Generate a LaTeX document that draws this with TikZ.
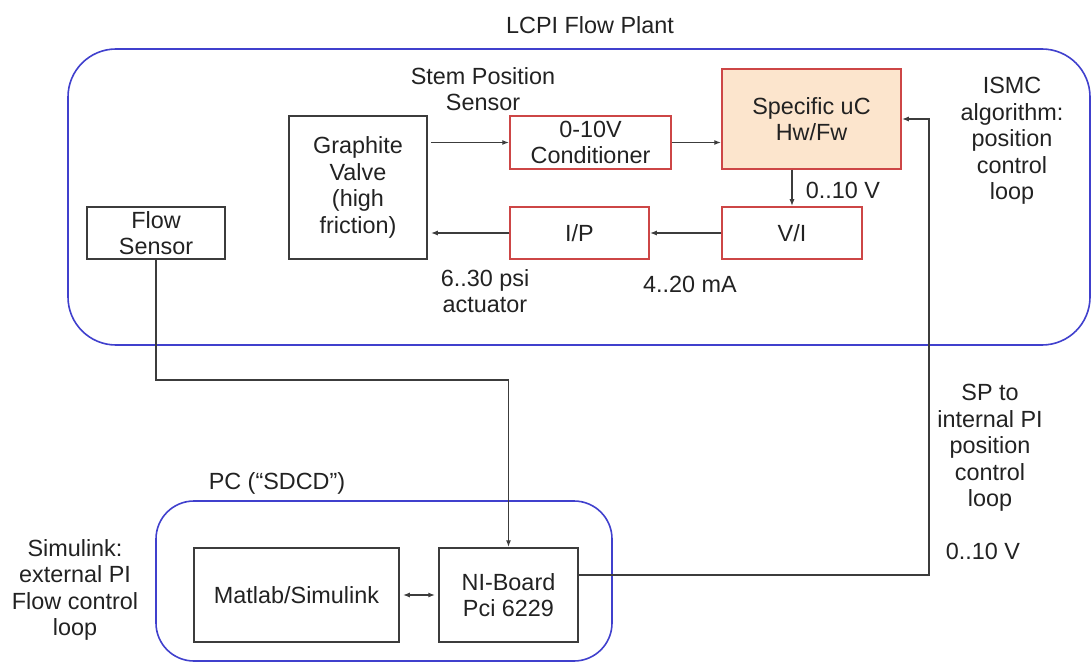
\documentclass[tikz,border=0pt]{standalone}
\usepackage{fontspec}
\setmainfont{Liberation Sans}
\usetikzlibrary{arrows.meta}
\definecolor{grpblue}{RGB}{64,64,205}
\definecolor{boxred}{RGB}{205,70,70}
\definecolor{ucfill}{RGB}{252,229,205}
\definecolor{ink}{RGB}{34,34,34}
\definecolor{linegray}{RGB}{60,60,60}
\begin{document}
\begin{tikzpicture}[x=1pt,y=-1pt,
  every node/.style={font=\fontsize{23.4}{26.5}\selectfont, text=ink, align=center, inner sep=0pt},
  group/.style={draw=grpblue, line width=1.6pt},
  blk/.style={draw=linegray, line width=1.5pt},
  redblk/.style={draw=boxred, line width=1.5pt},
  conn/.style={draw=linegray, line width=1.4pt},
  arr/.style={conn, -{Latex[length=7pt,width=5pt]}},
  darr/.style={conn, {Latex[length=7pt,width=5pt]}-{Latex[length=7pt,width=5pt]}},
  lbl/.style={}
]
\useasboundingbox (0,0) rectangle (1092,663);
% groups
\draw[group, rounded corners=48pt] (68,49) rectangle (1090,345);
\draw[group, rounded corners=38pt] (156,501) rectangle (612,661);
% titles
\node[lbl] (tplant) at (590,25) {LCPI Flow Plant};
\node[lbl] (tpc) at (277,483) {PC (“SDCD”)};
% boxes
\node[blk, minimum width=138pt, minimum height=52pt] (fs) at (156,233) {Flow\\Sensor};
\node[blk, minimum width=138pt, minimum height=143pt] (valve) at (358,187.5) {Graphite\\Valve\\(high\\friction)};
\node[redblk, minimum width=161pt, minimum height=53pt] (cond) at (590.5,142.5) {0-10V\\Conditioner};
\node[redblk, minimum width=139pt, minimum height=52pt] (ip) at (579.5,233) {I/P};
\node[redblk, fill=ucfill, minimum width=179pt, minimum height=100pt] (uc) at (811.5,119) {Specific uC\\Hw/Fw};
\node[redblk, minimum width=140pt, minimum height=52pt] (vi) at (792,233) {V/I};
\node[blk, minimum width=205pt, minimum height=94pt] (ml) at (296.5,595) {Matlab/Simulink};
\node[blk, minimum width=139pt, minimum height=94pt] (ni) at (508.5,595) {NI-Board\\Pci 6229};
% labels
\node[lbl] (lstem) at (483,89) {Stem Position\\Sensor};
\node[lbl] (lpsi) at (485,291) {6..30 psi\\actuator};
\node[lbl] (lma) at (690,284) {4..20 mA};
\node[lbl] (lv1) at (843,190) {0..10 V};
\node[lbl] (lismc) at (1012,141) {ISMC\\algorithm:\\position\\control\\loop};
\node[lbl] (lsp) at (990,448) {SP to\\internal PI\\position\\control\\loop};
\node[lbl] (lv2) at (983,551) {0..10 V};
\node[lbl] (lsim) at (75,590) {Simulink:\\external PI\\Flow control\\loop};
% connectors
\draw[arr, shorten <=3pt] (valve.east |- cond.west) -- (cond.west);
\draw[arr] (cond.east) -- (cond.east -| uc.west);
\draw[arr] (vi.north |- uc.south) -- (vi.north);
\draw[arr] (vi.west) -- (ip.east);
\draw[arr, shorten >=3pt] (ip.west) -- (ip.west -| valve.east);
\coordinate (fsbend) at (156,380);
\draw[arr] (fs.south) -- (fsbend) -| (ni.north);
\coordinate (spbend) at (929,575);
\draw[arr] (ni.east |- spbend) -- (spbend) |- (uc.east);
\draw[darr, shorten <=3pt, shorten >=3pt] (ml.east) -- (ni.west);
\end{tikzpicture}
\end{document}
